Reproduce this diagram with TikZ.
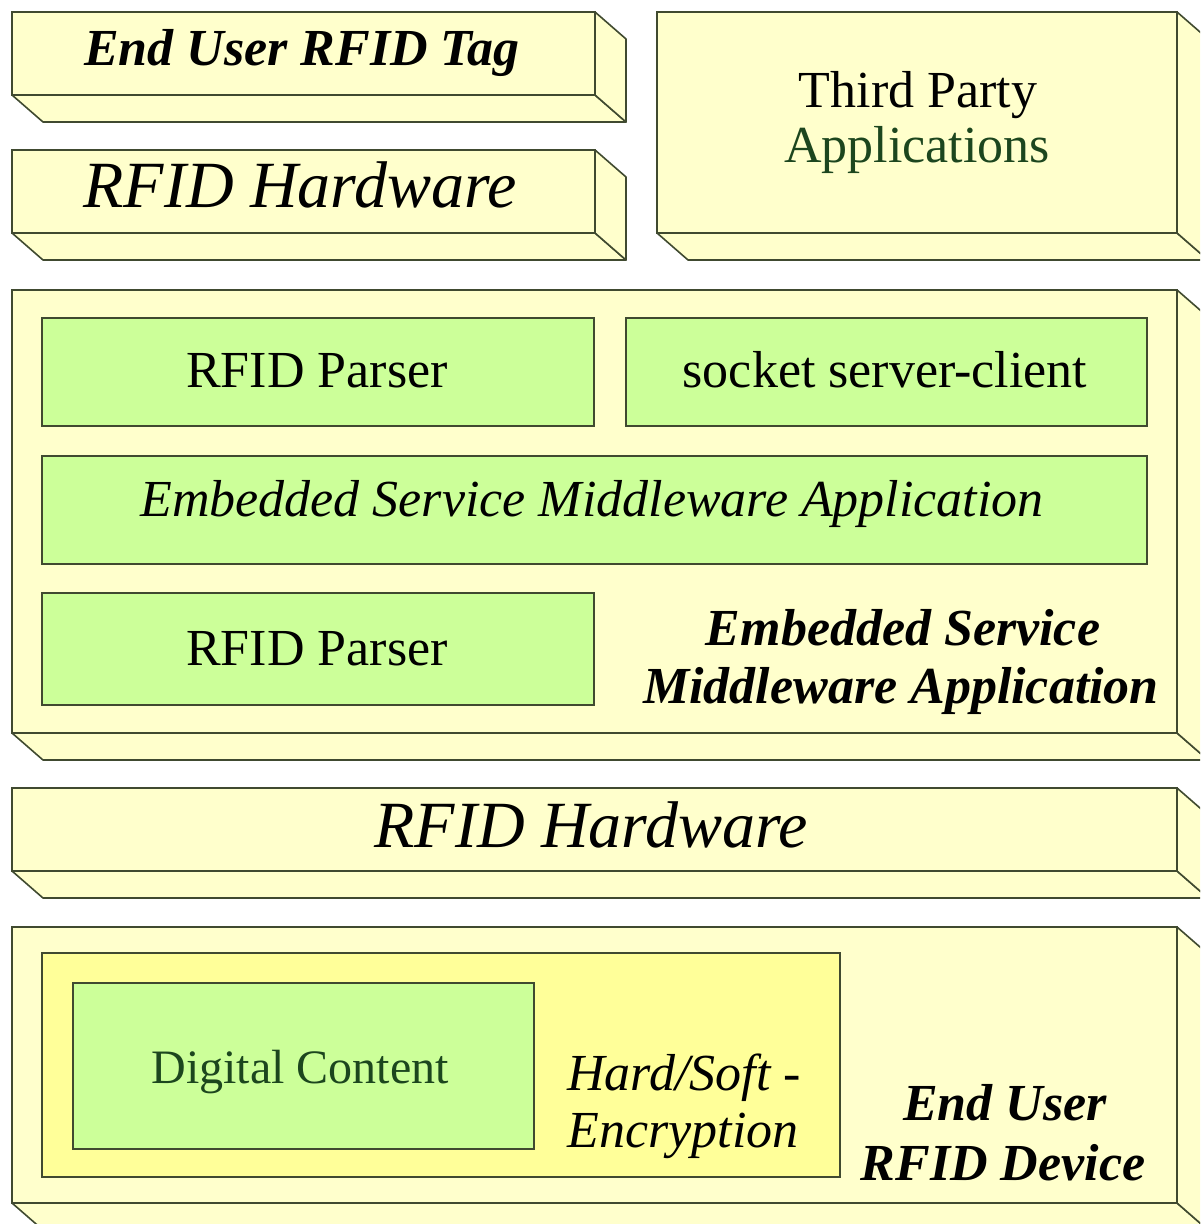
\documentclass[tikz,border=0pt]{standalone}
\usepackage{fontspec}
\setmainfont{Liberation Serif}
\definecolor{cream}{RGB}{255,255,204}
\definecolor{lgreen}{RGB}{204,255,153}
\definecolor{lyellow}{RGB}{255,255,153}
\definecolor{edge}{RGB}{64,74,48}
\definecolor{dgreen}{RGB}{28,70,30}
\newcommand{\depthfaces}[1]{%
  \draw[face] (#1.south west) -- ++(31,27) -- ($(#1.south east)+(31,27)$) -- (#1.south east) -- cycle;
  \draw[face] (#1.south east) -- (#1.north east) -- ++(31,27) -- ($(#1.south east)+(31,27)$) -- cycle;}
\usetikzlibrary{calc}
\begin{document}
\begin{tikzpicture}[x=0.5pt,y=-0.5pt,
  front/.style={draw=edge, fill=cream, line width=0.8pt, inner sep=0pt, outer sep=0pt, rectangle},
  greenbox/.style={draw=edge, fill=lgreen, line width=0.8pt, inner sep=0pt, outer sep=0pt, rectangle},
  yelbox/.style={draw=edge, fill=lyellow, line width=0.8pt, inner sep=0pt, outer sep=0pt, rectangle},
  face/.style={draw=edge, fill=cream, line width=0.8pt, line join=round},
  txt/.style={anchor=base, inner sep=0pt, font=\fontsize{26pt}{29pt}\selectfont},
  bigtxt/.style={anchor=base, inner sep=0pt, font=\fontsize{33pt}{36pt}\selectfont\itshape},
  bitxt/.style={anchor=base, inner sep=0pt, font=\fontsize{26pt}{29pt}\selectfont\bfseries\itshape}]
\useasboundingbox (0,0) rectangle (1200,1224);
\clip (0,0) rectangle (1200,1224);
\fill[white] (0,0) rectangle (1200,1224);
% top-left boxes
\node[front, minimum width=583*0.5pt, minimum height=83*0.5pt] (tag) at (303.5,53.5) {};
\depthfaces{tag}
\node[front, minimum width=583*0.5pt, minimum height=83*0.5pt] (hw1) at (303.5,191.5) {};
\depthfaces{hw1}
\node[front, minimum width=520*0.5pt, minimum height=221*0.5pt] (tpa) at (917,122.5) {};
\depthfaces{tpa}
% middleware box
\node[front, minimum width=1165*0.5pt, minimum height=443*0.5pt] (mid) at (594.5,511.5) {};
\depthfaces{mid}
\node[greenbox, minimum width=552*0.5pt, minimum height=108*0.5pt] (p1) at (318,372) {};
\node[greenbox, minimum width=521*0.5pt, minimum height=108*0.5pt] (sock) at (886.5,372) {};
\node[greenbox, minimum width=1105*0.5pt, minimum height=108*0.5pt] (esma) at (594.5,510) {};
\node[greenbox, minimum width=552*0.5pt, minimum height=112*0.5pt] (p2) at (318,649) {};
% hardware box
\node[front, minimum width=1165*0.5pt, minimum height=83*0.5pt] (hw2) at (594.5,829.5) {};
\depthfaces{hw2}
% device box
\node[front, minimum width=1165*0.5pt, minimum height=276*0.5pt] (dev) at (594.5,1065) {};
\depthfaces{dev}
\node[yelbox, minimum width=798*0.5pt, minimum height=224*0.5pt] (enc) at (441,1065) {};
\node[greenbox, minimum width=461*0.5pt, minimum height=166*0.5pt] (dc) at (303.5,1066) {};
% texts
\node[bitxt] (ttag) at (302,66) {End User RFID Tag};
\node[bigtxt] (thw1) at (300,208) {RFID Hardware};
\node[txt] (ttp1) at (918,108) {Third Party};
\node[txt, text=dgreen] (ttp2) at (917,163) {Applications};
\node[txt] (tp1) at (317,387) {RFID Parser};
\node[txt] (tsock) at (885,387) {socket server-client};
\node[txt, font=\fontsize{26pt}{29pt}\selectfont\itshape] (tesma) at (592,516) {Embedded Service Middleware Application};
\node[txt] (tp2) at (317,665) {RFID Parser};
\node[bitxt] (tm1) at (903,645) {Embedded Service};
\node[bitxt] (tm2) at (901,703) {Middleware Application};
\node[bigtxt] (thw2) at (591,847) {RFID Hardware};
\node[txt, text=dgreen, font=\fontsize{24pt}{27pt}\selectfont] (tdc) at (300,1083) {Digital Content};
\node[txt, anchor=base west, font=\fontsize{26pt}{29pt}\selectfont\itshape] (te1) at (567,1090) {Hard/Soft -};
\node[txt, anchor=base west, font=\fontsize{26pt}{29pt}\selectfont\itshape] (te2) at (567,1147) {Encryption};
\node[bitxt] (td1) at (1005,1120) {End User};
\node[bitxt] (td2) at (1003,1180) {RFID Device};
\end{tikzpicture}
\end{document}
